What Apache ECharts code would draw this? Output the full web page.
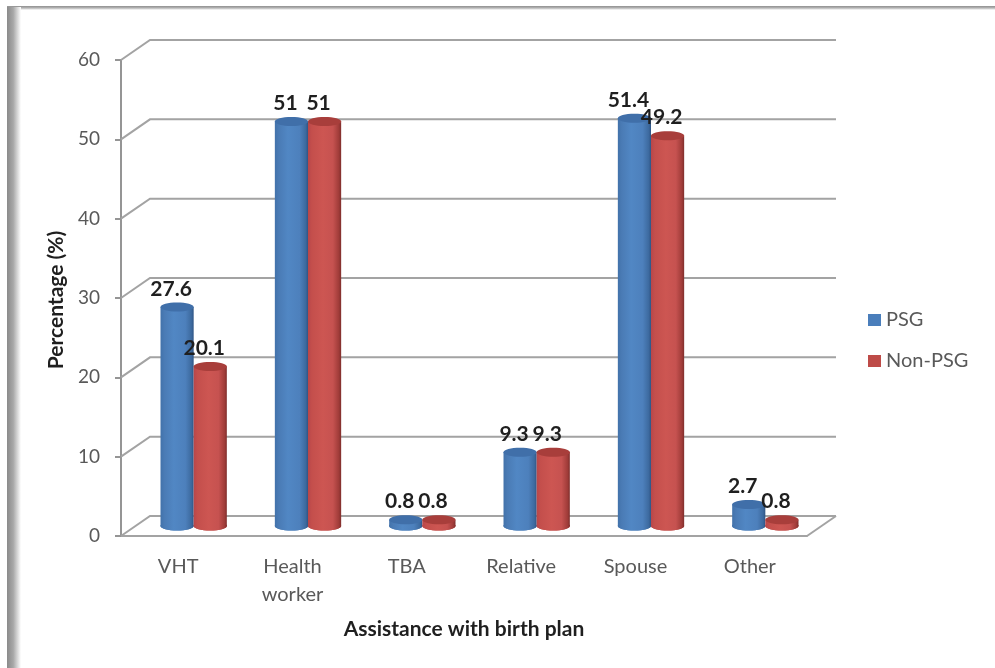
<!DOCTYPE html>
<html>
<head>
<meta charset="utf-8">
<title>Assistance with birth plan</title>
<script src="https://cdn.jsdelivr.net/npm/echarts@6/dist/echarts.min.js"></script>
<style>
  html, body { margin: 0; padding: 0; background: #fff; }
  #chart { width: 995px; height: 668px; }
</style>
</head>
<body>
<div id="chart"></div>
<script>
const categories = ['VHT', 'Health\nworker', 'TBA', 'Relative', 'Spouse', 'Other'];
const psgValues = [27.6, 51, 0.8, 9.3, 51.4, 2.7];
const nonPsgValues = [20.1, 51, 0.8, 9.3, 49.2, 0.8];
const yTicks = [0, 10, 20, 30, 40, 50, 60];

// Depth of the pseudo-3D box: how far the back wall sits from the front plane.
const DEPTH_X = 29;
const DEPTH_Y = 20;
const FONT = 'Lato, "Open Sans", sans-serif';
const AXIS_GREY = '#a3a3a3';

function vGradient(stops) {
  return new echarts.graphic.LinearGradient(0, 0, 1, 0,
    stops.map(function (s) { return { offset: s[0], color: s[1] }; }));
}

const palette = {
  blue: {
    body: [[0, '#4272aa'], [0.12, '#4a7bb5'], [0.4, '#5187c4'], [0.75, '#4d80bc'], [0.93, '#3d6a9f'], [1, '#2f5585']],
    cap: '#406fa9', base: '#4374ae', swatch: '#4a7ebb'
  },
  red: {
    body: [[0, '#b8464a'], [0.12, '#c44f4c'], [0.45, '#cd5652'], [0.75, '#c65250'], [0.93, '#a03c39'], [1, '#7f2e2c']],
    cap: '#a83e3b', base: '#b5423f', swatch: '#be4b48'
  }
};

// Cylinder for one category, drawn half way into the box depth.
function cylinder(colors, side) {
  return function (params, api) {
    const value = api.value(1);
    const top = api.coord([api.value(0), value]);
    const floor = api.coord([api.value(0), 0]);
    const w = api.size([1, 0])[0] * 0.29;
    const ry = Math.min(4.5, w / 6);
    const cx = top[0] + DEPTH_X / 2 + 1 + side * w / 2;
    const topY = top[1] - DEPTH_Y / 2;
    const baseY = floor[1] - DEPTH_Y / 2;
    const text = String(value);
    return {
      type: 'group',
      children: [
        { type: 'ellipse', shape: { cx: cx, cy: baseY, rx: w / 2, ry: ry }, style: { fill: colors.base } },
        { type: 'rect', shape: { x: cx - w / 2, y: topY, width: w, height: baseY - topY },
          style: { fill: vGradient(colors.body) } },
        { type: 'ellipse', shape: { cx: cx, cy: baseY, rx: w / 2, ry: ry }, style: { fill: vGradient(colors.body) } },
        { type: 'ellipse', shape: { cx: cx, cy: topY, rx: w / 2, ry: ry }, style: { fill: colors.cap } },
        { type: 'text', x: cx - 6, y: top[1] - 28,
          style: { text: text, fill: '#1f1f1f', font: 'bold 21px ' + FONT, textAlign: 'center', textVerticalAlign: 'middle' } }
      ]
    };
  };
}

// Back wall gridline plus the slanted connector from the front axis.
function wallLine(params, api) {
  const v = api.value(0);
  const cs = params.coordSys;
  const y = api.coord([0, v])[1];
  const x0 = cs.x;
  const x1 = cs.x + cs.width;
  const children = [{
    type: 'polyline',
    shape: { points: [[x0, y], [x0 + DEPTH_X, y - DEPTH_Y], [x1 + DEPTH_X, y - DEPTH_Y]] },
    style: { fill: 'none', stroke: AXIS_GREY, lineWidth: 2 }
  }];
  if (v === 0) {
    children.push({
      type: 'line',
      shape: { x1: x1, y1: y, x2: x1 + DEPTH_X, y2: y - DEPTH_Y },
      style: { stroke: AXIS_GREY, lineWidth: 2 }
    });
  }
  return { type: 'group', children: children };
}

const chart = echarts.init(document.getElementById('chart'), null, { renderer: 'canvas' });
chart.setOption({
  animation: false,
  backgroundColor: '#ffffff',
  grid: { left: 121, right: 188, top: 60, bottom: 132 },
  graphic: [
    { type: 'rect', z: 100, shape: { x: 7, y: 6, width: 988, height: 4 },
      style: { fill: new echarts.graphic.LinearGradient(0, 0, 0, 1, [
        { offset: 0, color: '#8f8f8f' }, { offset: 0.5, color: '#b5b5b5' }, { offset: 1, color: '#ffffff' }]) } },
    { type: 'rect', z: 101, shape: { x: 7, y: 7, width: 14, height: 661 },
      style: { fill: new echarts.graphic.LinearGradient(0, 0, 1, 0, [
        { offset: 0, color: '#8a8a8a' }, { offset: 0.45, color: '#a8a8a8' }, { offset: 1, color: '#ffffff' }]) } }
  ],
  legend: {
    orient: 'vertical',
    left: 863,
    top: 305,
    itemWidth: 13,
    itemHeight: 12,
    itemGap: 21,
    icon: 'rect',
    textStyle: { fontFamily: FONT, fontSize: 20, color: '#595959' },
    data: [
      { name: 'PSG', itemStyle: { color: palette.blue.swatch } },
      { name: 'Non-PSG', itemStyle: { color: palette.red.swatch } }
    ]
  },
  xAxis: {
    type: 'category',
    data: categories,
    name: 'Assistance with birth plan',
    nameLocation: 'middle',
    nameGap: 83,
    nameTextStyle: { fontFamily: FONT, fontSize: 21, fontWeight: 'bold', color: '#1f1f1f' },
    axisLine: { lineStyle: { color: AXIS_GREY, width: 2 } },
    axisTick: { show: false },
    axisLabel: { fontFamily: FONT, fontSize: 20, color: '#595959', margin: 17, lineHeight: 28, interval: 0 }
  },
  yAxis: {
    type: 'value',
    min: 0,
    max: 60,
    interval: 10,
    name: 'Percentage (%)',
    nameLocation: 'middle',
    nameGap: 53,
    nameTextStyle: { fontFamily: FONT, fontSize: 21, fontWeight: 'bold', color: '#1f1f1f', padding: [0, 4, 0, 0] },
    splitLine: { show: false },
    axisLine: { show: true, lineStyle: { color: '#959595', width: 2 } },
    axisTick: { show: true, length: 6, lineStyle: { color: '#959595', width: 2 } },
    axisLabel: { fontFamily: FONT, fontSize: 19, color: '#595959', margin: 21 }
  },
  series: [
    {
      type: 'custom', z: 1, silent: true, renderItem: wallLine,
      data: yTicks.map(function (t) { return [t]; }), encode: { y: 0 }
    },
    {
      name: 'PSG', type: 'custom', z: 2, silent: true, renderItem: cylinder(palette.blue, -1),
      itemStyle: { color: palette.blue.swatch },
      data: psgValues.map(function (v, i) { return [i, v]; }), encode: { x: 0, y: 1 }
    },
    {
      name: 'Non-PSG', type: 'custom', z: 3, silent: true, renderItem: cylinder(palette.red, 1),
      itemStyle: { color: palette.red.swatch },
      data: nonPsgValues.map(function (v, i) { return [i, v]; }), encode: { x: 0, y: 1 }
    }
  ]
});
</script>
</body>
</html>
